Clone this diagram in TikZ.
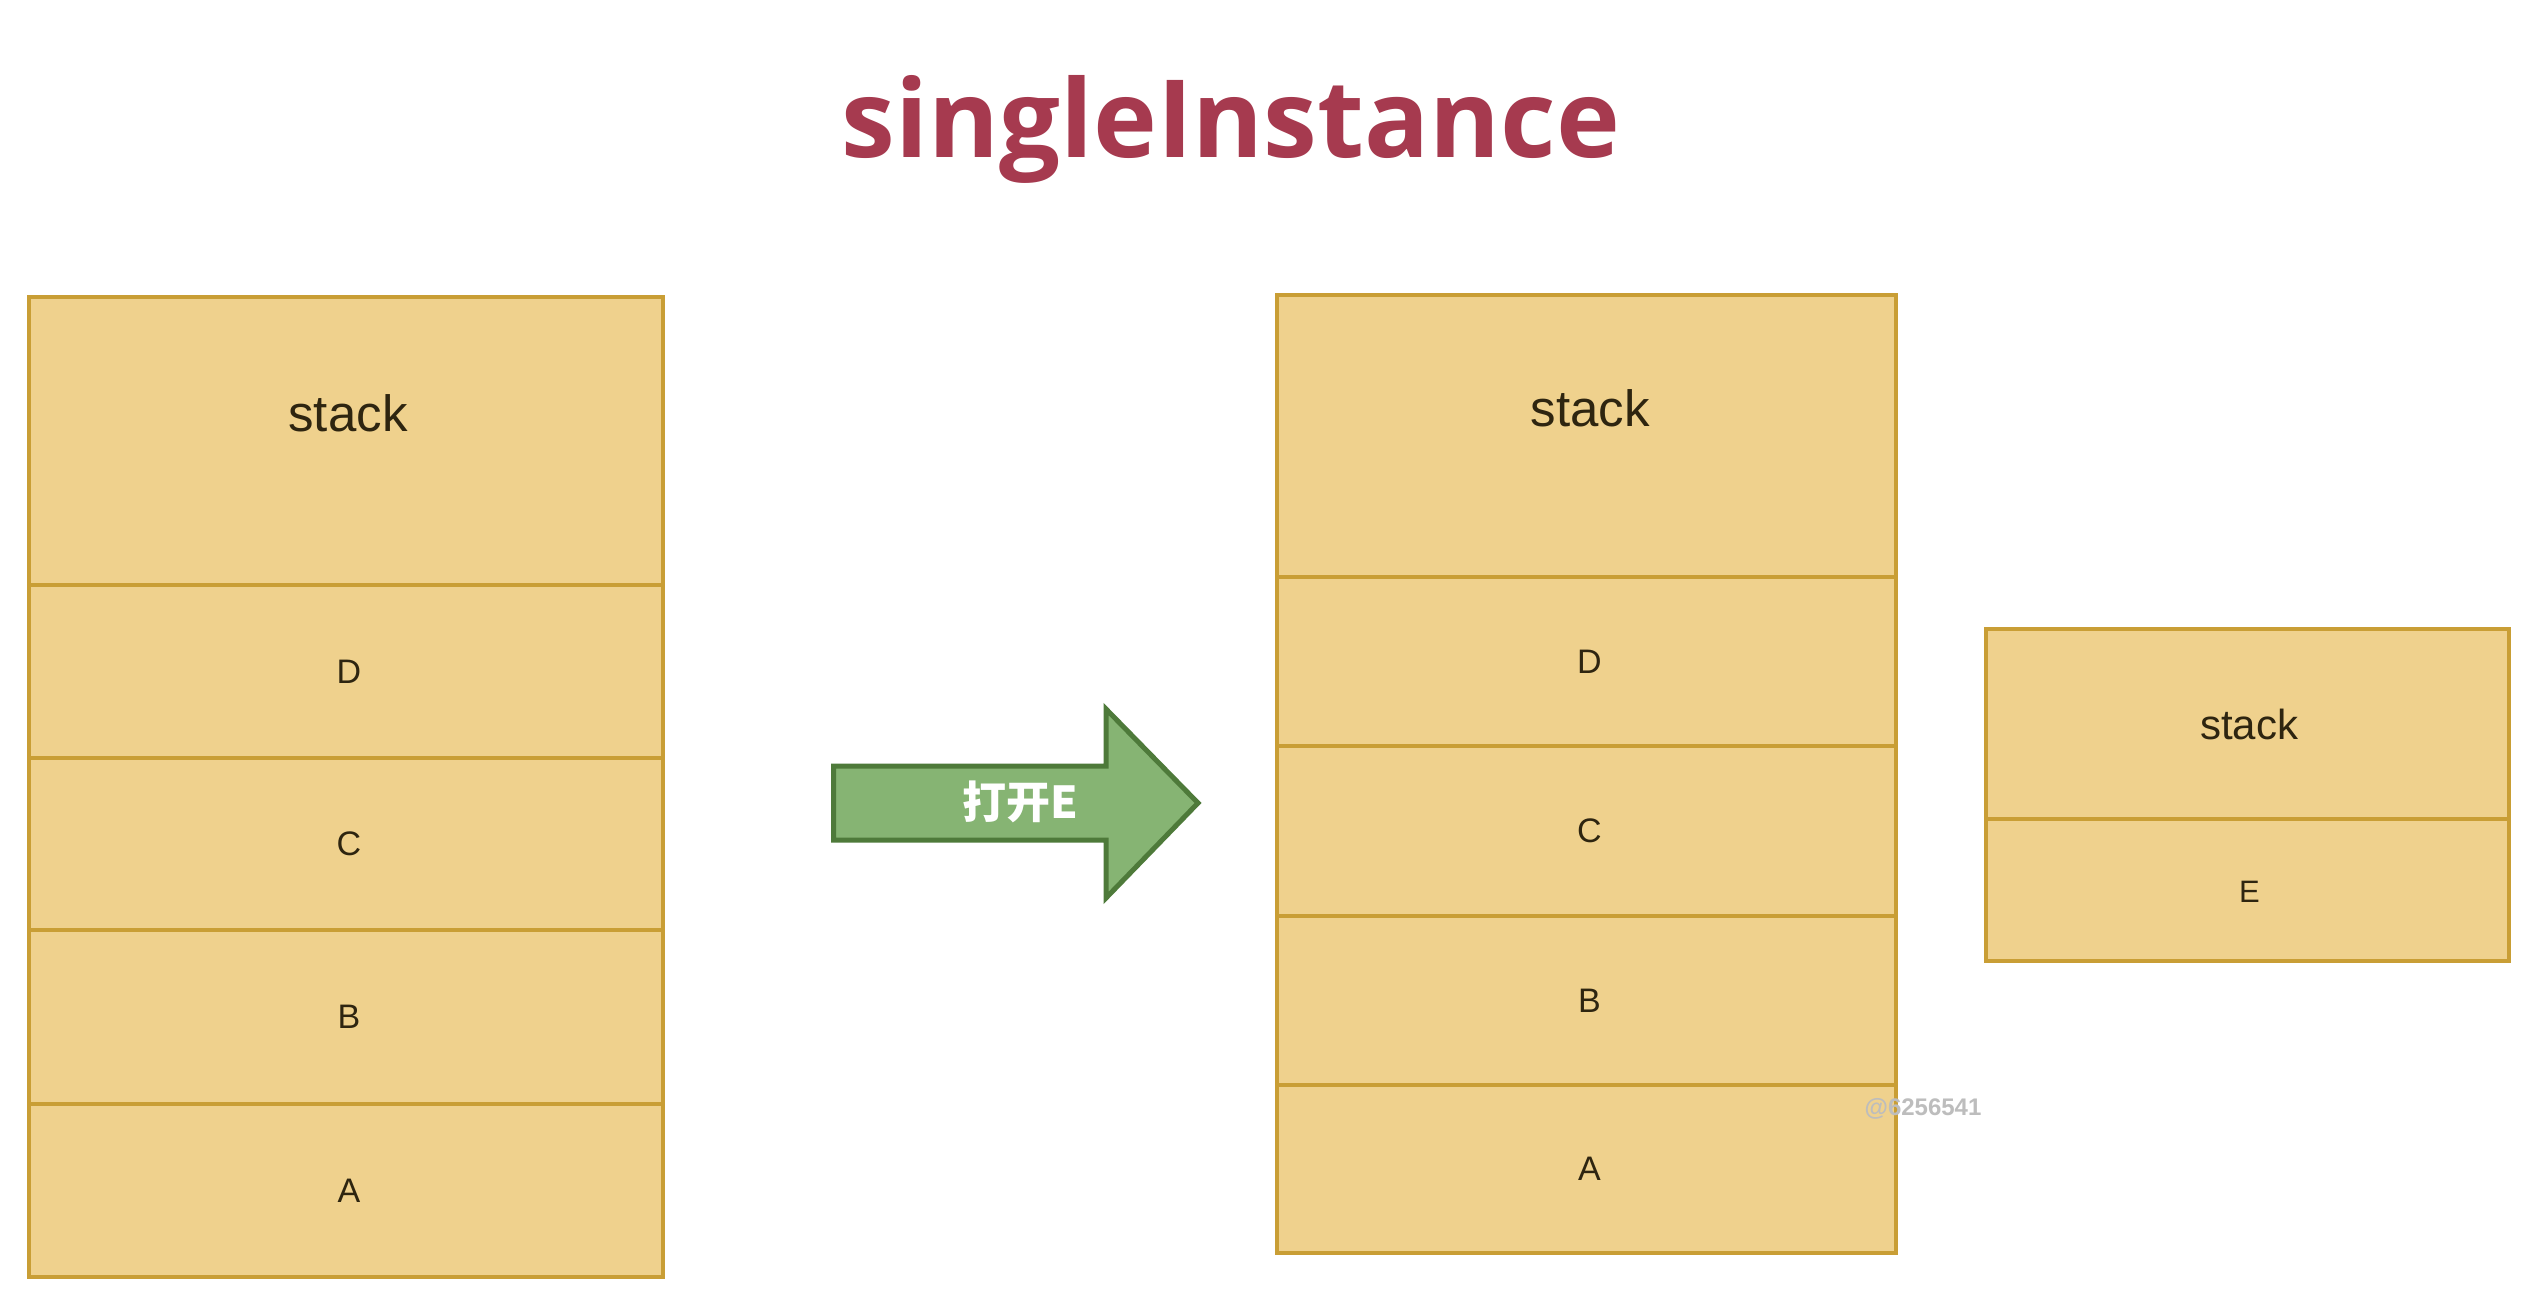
\documentclass[tikz,border=0pt]{standalone}
\usepackage{fontspec}
\setmainfont{Liberation Sans}
\newfontfamily\titlefont{Open Sans}
\newfontfamily\cjk{Noto Sans CJK SC}
\usetikzlibrary{fit}
\definecolor{cellfill}{HTML}{EFD18D}
\definecolor{cellline}{HTML}{C99E35}
\definecolor{celltext}{HTML}{2E2510}
\definecolor{titlered}{HTML}{A63A4F}
\definecolor{arrowfill}{HTML}{86B473}
\definecolor{arrowline}{HTML}{4E7A3A}
\definecolor{wmgray}{HTML}{BDBDBD}
\begin{document}
\begin{tikzpicture}[x=0.5pt,y=-0.5pt,
  cell/.style={draw=cellline, fill=cellfill, line width=1.8pt, inner sep=0pt, rectangle},
  letter/.style={text=celltext, inner sep=0pt, font=\fontsize{17}{20}\selectfont},
  smallletter/.style={letter, font=\fontsize{15.5}{18}\selectfont},
  hdr/.style={text=celltext, inner sep=0pt, font=\fontsize{25.5}{30}\selectfont},
  smallhdr/.style={hdr, font=\fontsize{21}{25}\selectfont},
  titlestyle/.style={text=titlered, inner sep=0pt, font=\titlefont\bfseries\fontsize{54}{60}\selectfont},
  arrowshape/.style={draw=arrowline, fill=arrowfill, line width=2.5pt, line join=miter},
  arrowtext/.style={text=white, inner sep=0pt, font=\cjk\bfseries\fontsize{22}{26}\selectfont},
  wm/.style={text=wmgray, inner sep=0pt, font=\bfseries\fontsize{12}{14}\selectfont}]
\fill[white] (0,0) rectangle (2528,1310);
\useasboundingbox (0,0) rectangle (2528,1310);

% title
\node[titlestyle, anchor=base] (title) at (1231,158) {singleInstance};

% left stack
\node[cell, fit={(29,297) (663,585)}] (L0) {};
\node[cell, fit={(29,585) (663,758)}] (L1) {};
\node[cell, fit={(29,758) (663,930)}] (L2) {};
\node[cell, fit={(29,930) (663,1104)}] (L3) {};
\node[cell, fit={(29,1104) (663,1277)}] (L4) {};
\node[hdr] (L0t) at (348,413) {stack};
\node[letter] (L1t) at ([xshift=1.5pt]L1.center) {D};
\node[letter] (L2t) at ([xshift=1.5pt]L2.center) {C};
\node[letter] (L3t) at ([xshift=1.5pt]L3.center) {B};
\node[letter] (L4t) at ([xshift=1.5pt]L4.center) {A};

% arrow
\draw[arrowshape] (833.5,766) -- (1106,766) -- (1106,709) -- (1198,803)
  -- (1106,898) -- (1106,840) -- (833.5,840) -- cycle;
\node[arrowtext] (open) at (1020,802) {打开E};

% middle stack
\node[cell, fit={(1277,295) (1896,577)}] (M0) {};
\node[cell, fit={(1277,577) (1896,746)}] (M1) {};
\node[cell, fit={(1277,746) (1896,916)}] (M2) {};
\node[cell, fit={(1277,916) (1896,1085)}] (M3) {};
\node[cell, fit={(1277,1085) (1896,1253)}] (M4) {};
\node[hdr] (M0t) at (1590,408) {stack};
\node[letter] (M1t) at ([xshift=1.5pt]M1.center) {D};
\node[letter] (M2t) at ([xshift=1.5pt]M2.center) {C};
\node[letter] (M3t) at ([xshift=1.5pt]M3.center) {B};
\node[letter] (M4t) at ([xshift=1.5pt]M4.center) {A};

% right stack
\node[cell, fit={(1986,629) (2509,819)}] (R0) {};
\node[cell, fit={(1986,819) (2509,961)}] (R1) {};
\node[smallhdr] (R0t) at (2249,724) {stack};
\node[smallletter] (R1t) at ([xshift=1pt,yshift=-1pt]R1.center) {E};

% watermark
\node[wm] (mark) at (1923,1109) {@6256541};
\end{tikzpicture}
\end{document}
